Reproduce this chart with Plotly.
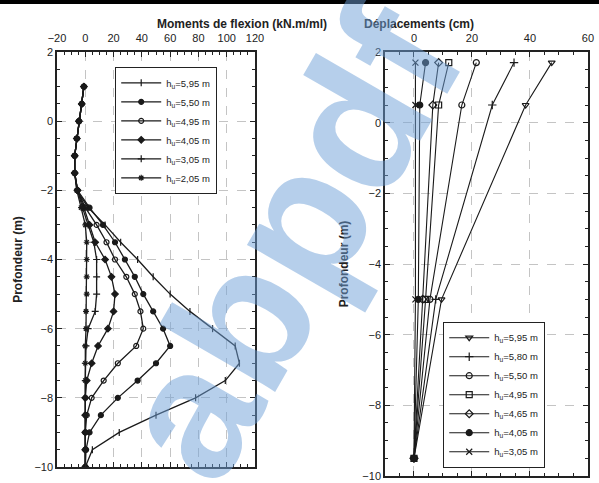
import plotly.graph_objects as go

# ---- Left: bending moments ----
depth_m = [1, 0.5, 0, -0.5, -1, -1.5, -2, -2.5, -3, -3.5, -4, -4.5, -5, -5.5,
           -6, -6.5, -7, -7.5, -8, -8.5, -9, -9.5, -10]
moment_labels = ["h<sub>u</sub>=5,95 m", "h<sub>u</sub>=5,50 m", "h<sub>u</sub>=4,95 m",
                 "h<sub>u</sub>=4,05 m", "h<sub>u</sub>=3,05 m", "h<sub>u</sub>=2,05 m"]
m_595 = [-1, -2.5, -4.5, -6, -7.5, -7.5, -6, 2, 14, 25, 37, 48, 60, 74, 90, 106, 109, 99, 78, 50, 24, 5, 0]
m_550 = [-1, -2.5, -4.5, -6, -7.5, -7.5, -5.5, 3, 12.5, 21, 28, 35, 41, 48, 55, 60, 50, 37, 23, 11, 3, 0.5, 0]
m_495 = [-1, -2.5, -4.5, -6, -7.5, -7.5, -5.5, 0, 8, 15, 21, 29, 35, 39, 41, 36, 23, 13, 4.5, 1, 0, 0, 0]
m_405 = [-1, -2.5, -4.5, -6, -7.5, -7.5, -5.5, -1, 3, 7, 14, 18.5, 21, 20, 16, 9, 4.5, 1, 0, 0, 0, 0, 0]
m_305 = [-1, -2.5, -4.5, -6, -7.5, -7.5, -5.5, -2, 2, 6, 8, 8, 8, 7, 2, 0.5, 0, 0, 0, 0, 0, 0, 0]
m_205 = [-1, -2.5, -4.5, -6, -7.5, -7.5, -6, -3, 0, 1, 1, 1, 1, 0.5, 0.5, 0, 0, 0, 0, 0, 0, 0, 0]
moment_series = [m_595, m_550, m_495, m_405, m_305, m_205]
moment_symbols = ["line-ns-open", "circle", "circle-open", "diamond", "cross-thin-open", "asterisk-open"]

# ---- Right: displacements ----
depth_d = [1.7, 0.5, -5, -9.5]
disp_labels = ["h<sub>u</sub>=5,95 m", "h<sub>u</sub>=5,80 m", "h<sub>u</sub>=5,50 m",
               "h<sub>u</sub>=4,95 m", "h<sub>u</sub>=4,65 m", "h<sub>u</sub>=4,05 m",
               "h<sub>u</sub>=3,05 m"]
d_595 = [47.5, 38.5, 9.5, 0]
d_580 = [34.5, 27, 7.5, 0]
d_550 = [21.5, 16.5, 5.5, 0]
d_495 = [12, 8.5, 4, 0]
d_465 = [8.5, 6.5, 3, 0]
d_405 = [4, 2, 1.5, 0]
d_305 = [0.5, 0.5, 0.5, 0]
disp_series = [d_595, d_580, d_550, d_495, d_465, d_405, d_305]
disp_symbols = ["triangle-down-open", "cross-thin-open", "circle-open", "square-open",
                "diamond-open", "circle", "x-thin-open"]

LINE = "#1a1a1a"
fig = go.Figure()

for name, vals, sym in zip(moment_labels, moment_series, moment_symbols):
    fig.add_trace(go.Scatter(
        x=vals, y=depth_m, mode="lines+markers", name=name,
        line=dict(color=LINE, width=1.3),
        marker=dict(symbol=sym, size=5, color=LINE, line=dict(color=LINE, width=1.2)),
        xaxis="x", yaxis="y", legend="legend"))

for name, vals, sym in zip(disp_labels, disp_series, disp_symbols):
    fig.add_trace(go.Scatter(
        x=vals, y=depth_d, mode="lines+markers", name=name,
        line=dict(color=LINE, width=1.1),
        marker=dict(symbol=sym, size=6, color=LINE, line=dict(color=LINE, width=1.2)),
        xaxis="x2", yaxis="y2", legend="legend2"))

axis_common = dict(
    showline=True, linecolor="#222", linewidth=1.5, mirror="allticks",
    ticks="inside", ticklen=5, tickcolor="#222", tickwidth=1.2,
    showgrid=True, gridcolor="#c4c4c4", griddash="dash", gridwidth=0.8,
    zeroline=False, automargin=False,
    tickfont=dict(family="Liberation Sans, Arial", size=11, color="#222"),
)
minor_x = dict(ticks="inside", ticklen=3, tickcolor="#222", dtick=5, showgrid=False)
minor_y = dict(ticks="inside", ticklen=3, tickcolor="#222", dtick=0.5, showgrid=False)

fig.update_layout(
    width=599, height=483,
    margin=dict(l=0, r=0, t=0, b=0, autoexpand=False),
    paper_bgcolor="white", plot_bgcolor="white",
    font=dict(family="Liberation Sans, Arial", color="#222"),
    xaxis=dict(domain=[0.0952, 0.4257], range=[-20, 120], side="top",
               tickvals=[-20, 0, 20, 40, 60, 80, 100, 120], minor=minor_x,
               anchor="y", ticklabelstandoff=4, **axis_common),
    yaxis=dict(domain=[0.0331, 0.8923], range=[-10, 2], tickvals=[2, 0, -2, -4, -6, -8, -10],
               minor=minor_y, anchor="x",
               title=dict(text="<b>Profondeur (m)</b>", font=dict(size=12), standoff=9),
               **axis_common),
    xaxis2=dict(domain=[0.6427, 0.9816], range=[-10, 60], side="top", tickvals=[0, 20, 40, 60],
                minor=minor_x, anchor="y2", ticklabelstandoff=4, **axis_common),
    yaxis2=dict(domain=[0.0145, 0.8923], range=[-10, 2], tickvals=[2, 0, -2, -4, -6, -8, -10],
                minor=minor_y, anchor="x2",
                title=dict(text="<b>Profondeur (m)</b>", font=dict(size=12), standoff=11),
                **axis_common),
    legend=dict(x=0.192, y=0.861, xanchor="left", yanchor="top", bgcolor="white",
                bordercolor="#222", borderwidth=1.2, font=dict(size=9.5), itemwidth=40,
                tracegroupgap=0),
    legend2=dict(x=0.7396, y=0.3333, xanchor="left", yanchor="top", bgcolor="white",
                 bordercolor="#222", borderwidth=1.2, font=dict(size=9.5), itemwidth=40,
                 tracegroupgap=0),
    showlegend=True,
)

fig.add_annotation(text="<b>Moments de flexion (kN.m/ml)</b>", xref="paper", yref="paper",
                   x=0.258, y=1 - 15 / 483, showarrow=False, font=dict(size=12, color="#222"))
fig.add_annotation(text="<b>Déplacements (cm)</b>", xref="paper", yref="paper",
                   x=0.795, y=1 - 15 / 483, showarrow=False, font=dict(size=12, color="#222"))
# scanned-page watermark
fig.add_annotation(text="<b>abpdf</b>", xref="paper", yref="paper", x=0.48, y=0.5,
                   showarrow=False, textangle=-60,
                   font=dict(family="Liberation Sans, Arial", size=185, color="rgba(110,160,215,0.5)"))
fig.add_shape(type="rect", xref="paper", yref="paper", x0=0, x1=1, y0=1 - 4 / 483, y1=1,
              line=dict(width=0), fillcolor="black")

fig.write_html("out.html", config={"displayModeBar": False},
               post_script="document.body.style.margin='0';")
